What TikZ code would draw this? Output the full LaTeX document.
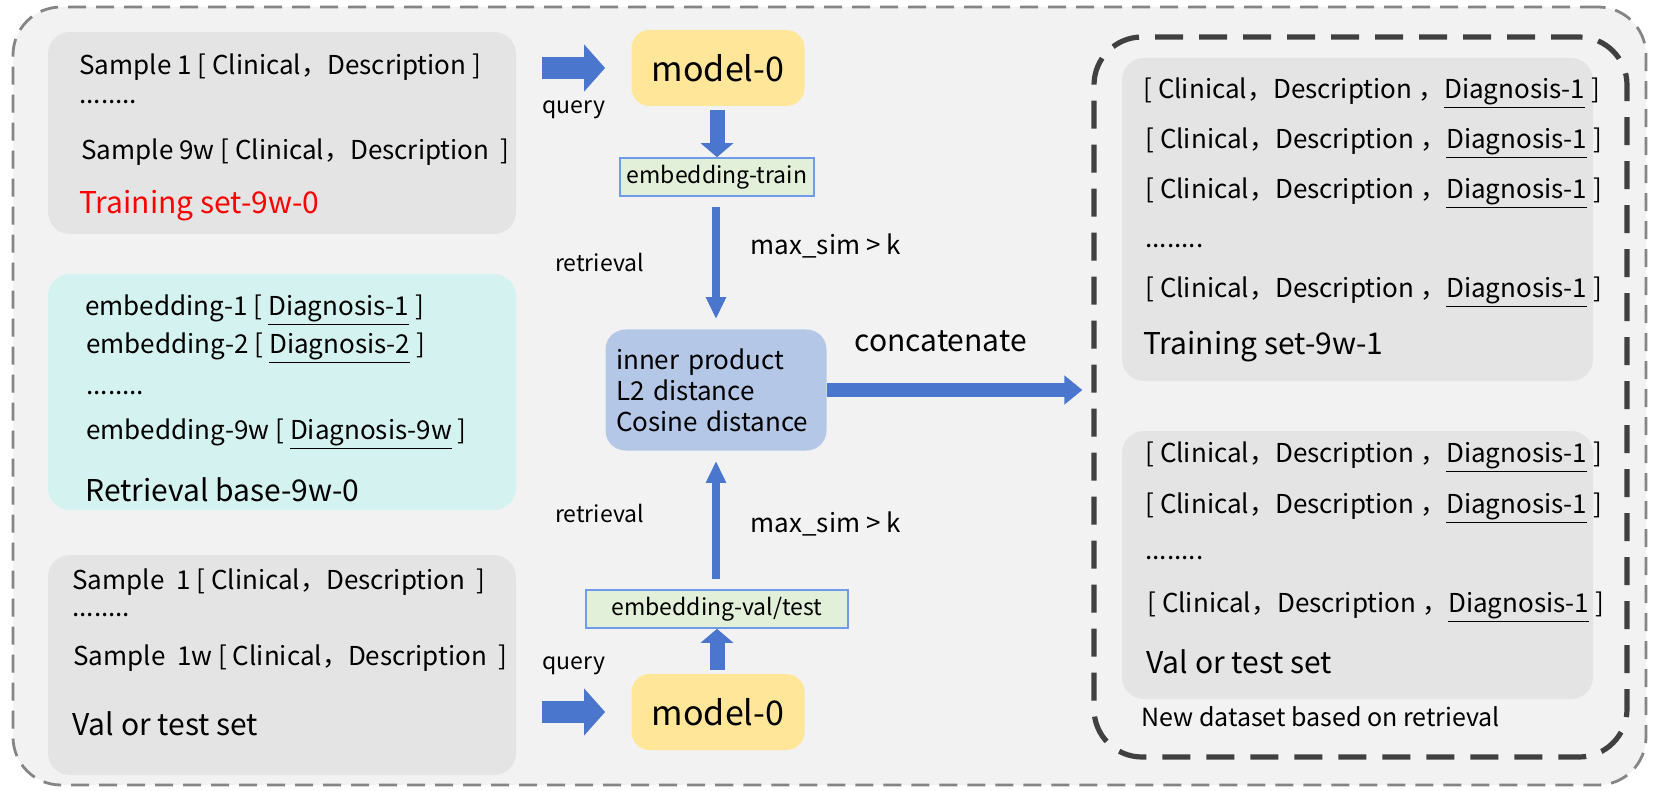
\documentclass[tikz,border=0pt]{standalone}
\usepackage{fontspec}
\setmainfont{Noto Sans CJK SC}
\usetikzlibrary{arrows.meta,positioning}
\definecolor{outerfill}{HTML}{F2F2F2}
\definecolor{outerline}{HTML}{858585}
\definecolor{panelgray}{HTML}{E4E4E4}
\definecolor{cyanfill}{HTML}{D4F3F0}
\definecolor{modelfill}{HTML}{FFE699}
\definecolor{metricfill}{HTML}{B4C7E7}
\definecolor{embfill}{HTML}{E2F0D9}
\definecolor{embline}{HTML}{6F9CE8}
\definecolor{flowblue}{HTML}{4A76CD}
\definecolor{darkdash}{HTML}{404040}

\begin{document}
\begin{tikzpicture}[x=0.5pt, y=-0.5pt,
        panel/.style={rounded corners=11pt, fill=panelgray, minimum width=234pt},
        model/.style={rounded corners=9pt, fill=modelfill, minimum width=86.5pt, minimum height=38pt, font=\fontsize{17}{20}\selectfont},
        emb/.style={draw=embline, fill=embfill, line width=0.8pt, minimum height=19pt, font=\fontsize{11.5}{13}\selectfont},
        txt/.style={anchor=west, inner sep=0pt, font=\fontsize{13}{15}\selectfont},
        title/.style={anchor=west, inner sep=0pt, font=\fontsize{15}{17}\selectfont},
        rtxt/.style={anchor=west, inner sep=0pt, font=\fontsize{13}{15}\selectfont},
        lbl/.style={inner sep=0pt, font=\fontsize{11.5}{13}\selectfont},
        bigarrow/.style={draw=flowblue, line width=11pt, -{Triangle[length=10.5pt, width=23pt]}},
        midarrow/.style={draw=flowblue, line width=7.5pt, -{Triangle[length=7pt, width=16pt]}},
        thinarrow/.style={draw=flowblue, line width=4pt, -{Triangle[length=11pt, width=9.5pt]}},
        catarrow/.style={draw=flowblue, line width=7pt, -{Triangle[length=9pt, width=14pt]}}
    ]
        \useasboundingbox (0,0) rectangle (1660,791);
        \node[draw=outerline, dashed, dash pattern=on 9pt off 5pt, line width=1.4pt, fill=outerfill, rounded corners=24pt,
              minimum width=816.5pt, minimum height=389pt] (outer) at (829.5,396) {};

        % left column
        \node[panel, minimum height=101pt] (trainset) at (282,133) {};
        \node[panel, fill=cyanfill, minimum height=118pt] (retbase) at (282,392) {};
        \node[panel, minimum height=110pt] (valset) at (282,665) {};

        \node[txt] (a1) at (79,67) {Sample 1 [ Clinical，Description ]};
        \node[txt] (a2) at (79,102) {........};
        \node[txt] (a3) at (81,152) {Sample 9w [ Clinical，Description~ ]};
        \node[title, text=red] (a4) at (79,206) {Training set-9w-0};

        \node[txt] (b1) at (85,310) {embedding-1 [ \underline{Diagnosis-1} ]};
        \node[txt] (b2) at (86,348) {embedding-2 [ \underline{Diagnosis-2} ]};
        \node[txt] (b3) at (86,393) {........};
        \node[txt] (b4) at (86,434) {embedding-9w [ \underline{Diagnosis-9w} ]};
        \node[title] (b5) at (85,490) {Retrieval base-9w-0};

        \node[txt] (c1) at (72,582) {Sample~ 1 [ Clinical，Description~ ]};
        \node[txt] (c2) at (72,615) {........};
        \node[txt] (c3) at (73,658) {Sample~ 1w [ Clinical，Description~ ]};
        \node[title] (c4) at (72,724) {Val or test set};

        % middle column
        \node[model] (modeltop) at (718,68) {model-0};
        \node[emb, minimum width=94pt] (embtrain) at (717,177) {embedding-train};
        \node[rounded corners=10pt, fill=metricfill, minimum width=110.5pt, minimum height=60.5pt,
              align=left, text width=100pt, font=\fontsize{13}{15.5}\selectfont] (metric) at (716,390)
              {inner product\\L2 distance\\Cosine distance};
        \node[emb, minimum width=131pt] (embval) at (717,609) {embedding-val/test};
        \node[model] (modelbot) at (718,712) {model-0};

        % right column
        \node[draw=darkdash, line width=2.6pt, dash pattern=on 14pt off 8pt, rounded corners=24pt,
              minimum width=266.5pt, minimum height=360pt] (newset) at (1360.5,397) {};
        \node[panel, minimum width=235.5pt, minimum height=161.5pt] (trainnew) at (1357.5,219.5) {};
        \node[panel, minimum width=235.5pt, minimum height=134pt] (valnew) at (1357.5,565) {};

        \node[rtxt] (d1) at (1143,93) {[ Clinical，Description ，\underline{Diagnosis-1} ]};
        \node[rtxt] (d2) at (1145,143) {[ Clinical，Description ，\underline{Diagnosis-1} ]};
        \node[rtxt] (d3) at (1145,193) {[ Clinical，Description ，\underline{Diagnosis-1} ]};
        \node[rtxt] (d4) at (1145,246) {........};
        \node[rtxt] (d5) at (1145,292) {[ Clinical，Description ，\underline{Diagnosis-1} ]};
        \node[title] (d6) at (1143,347) {Training set-9w-1};

        \node[rtxt] (e1) at (1145,457) {[ Clinical，Description ，\underline{Diagnosis-1} ]};
        \node[rtxt] (e2) at (1145,508) {[ Clinical，Description ，\underline{Diagnosis-1} ]};
        \node[rtxt] (e3) at (1145,558) {........};
        \node[rtxt] (e4) at (1147,607) {[ Clinical，Description ，\underline{Diagnosis-1} ]};
        \node[title] (e5) at (1146,662) {Val or test set};
        \node[lbl, anchor=west, font=\fontsize{12.5}{14}\selectfont] (newlbl) at (1141,717) {New dataset based on retrieval};

        % connectors
        \draw[bigarrow, shorten <=13pt, shorten >=13pt] (trainset.east |- modeltop.west) -- (modeltop.west)
            node[midway, below=11pt, lbl] {query};
        \draw[bigarrow, shorten <=13pt, shorten >=13pt] (valset.east |- modelbot.west) -- (modelbot.west)
            node[midway, above=13pt, lbl] {query};
        \draw[midarrow, shorten <=2pt] (modeltop.south -| embtrain.north) -- (embtrain.north);
        \draw[midarrow, shorten <=2pt] (modelbot.north -| embval.south) -- (embval.south);
        \draw[thinarrow, shorten <=5pt, shorten >=5pt] (embtrain.south -| metric.north) -- (metric.north)
            node[pos=0.5, left=34pt, lbl] {retrieval}
            node[pos=0.37, right=12pt, font=\fontsize{13}{15}\selectfont] {max\_sim > k};
        \draw[thinarrow, shorten <=5pt, shorten >=5pt] (embval.north -| metric.south) -- (metric.south)
            node[pos=0.55, left=34pt, lbl] {retrieval}
            node[pos=0.47, right=12pt, font=\fontsize{13}{15}\selectfont] {max\_sim > k};
        \draw[catarrow, shorten >=4.5pt] (metric.east) -- (metric.east -| newset.west)
            node[pos=0.43, above=12pt, font=\fontsize{15}{17}\selectfont] {concatenate};
    \end{tikzpicture}
\end{document}
